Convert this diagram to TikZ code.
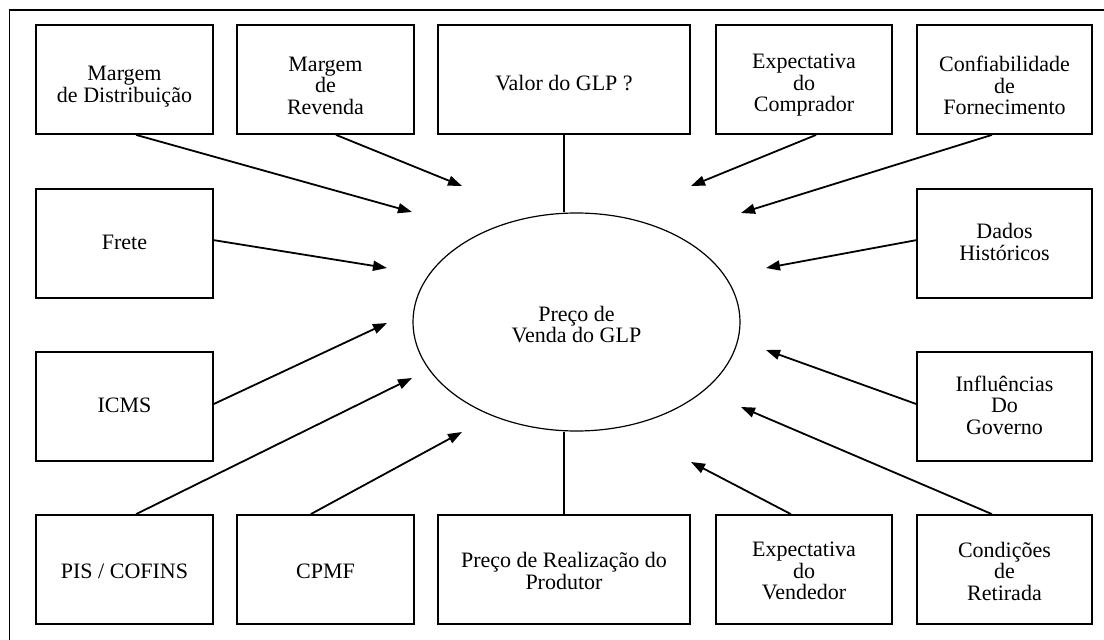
\documentclass[tikz,border=0pt]{standalone}
\usepackage{fontspec}
\setmainfont{Liberation Serif}
\usetikzlibrary{arrows.meta,calc,shapes.geometric}
\begin{document}
\begin{tikzpicture}[x=1pt,y=-1pt,
  box/.style={draw,line width=1.8pt,inner sep=0pt,minimum height=109pt},
  txt/.style={align=center,inner sep=0pt,font=\fontsize{22pt}{21.5pt}\selectfont},
  w1/.style={minimum width=177pt},
  w3/.style={minimum width=252pt},
  w4/.style={minimum width=176pt},
  w5/.style={minimum width=175pt},
  conn/.style={line width=1.8pt},
  arr/.style={line width=1.8pt,-{Triangle[length=14pt,width=10pt]}}]
\useasboundingbox (0,0) rectangle (1104,640);
\begin{scope}
\clip (0,0) rectangle (1104,640);
\draw[line width=1.6pt] (9.5,10) rectangle (1130,670);
\end{scope}
% row 1
\node[box,w1,label={[txt,yshift=-7pt]center:{Margem\\de Distribuição}}] (md) at (124.5,79.5) {};
\node[box,w1,label={[txt,yshift=-6pt]center:{Margem\\de\\Revenda}}] (mr) at (325.5,79.5) {};
\node[box,w3,label={[txt,yshift=-4pt]center:{Valor do GLP ?}}] (valor) at (564,79.5) {};
\node[box,w4,label={[txt,yshift=-6pt]center:{Expectativa\\do\\Comprador}}] (ec) at (804,79.5) {};
\node[box,w5,label={[txt,yshift=-6pt]center:{Confiabilidade\\de\\Fornecimento}}] (cf) at (1004.5,79.5) {};
% row 2
\node[box,w1,label={[txt,yshift=1.5pt]center:{Frete}}] (frete) at (124.5,243.5) {};
\node[box,w5,label={[txt,yshift=1.5pt]center:{Dados\\Históricos}}] (dados) at (1004.5,243.5) {};
% row 3
\node[box,w1,label={[txt,yshift=1.5pt]center:{ICMS}}] (icms) at (124.5,406.5) {};
\node[box,w5,label={[txt,yshift=1.5pt]center:{Influências\\Do\\Governo}}] (infl) at (1004.5,406.5) {};
% row 4
\node[box,w1,label={[txt,yshift=-1.5pt]center:{PIS / COFINS}}] (pis) at (124.5,569.5) {};
\node[box,w1,label={[txt,yshift=-1.5pt]center:{CPMF}}] (cpmf) at (325.5,569.5) {};
\node[box,w3,label={[txt,yshift=-1.5pt]center:{Preço de Realização do\\Produtor}}] (prp) at (564,569.5) {};
\node[box,w4,label={[txt,yshift=-1.5pt]center:{Expectativa\\do\\Vendedor}}] (ev) at (804,569.5) {};
\node[box,w5,label={[txt,yshift=-1.5pt]center:{Condições\\de\\Retirada}}] (cr) at (1004.5,569.5) {};
% centre
\node[draw,line width=1.2pt,ellipse,minimum width=327pt,minimum height=218pt,inner sep=0pt,
  label={[txt,yshift=-2.5pt]center:{Preço de\\Venda do GLP}}] (ell) at (576.5,322) {};
% free arrow ends
\coordinate (t1) at (412,212);
\coordinate (t2) at (462,186);
\coordinate (t3) at (691,186);
\coordinate (t4) at (741,213);
\coordinate (t5) at (387,268);
\coordinate (t6) at (766,268);
\coordinate (t7) at (387,323);
\coordinate (t8) at (766,350);
\coordinate (t9) at (412,378);
\coordinate (t10) at (462,432);
\coordinate (t11) at (691,462);
\coordinate (t12) at (741,407);
% connectors
\draw[conn] (valor.south) -- (valor.south |- ell.north);
\draw[conn] (prp.north) -- (prp.north |- ell.south);
\draw[arr] ($(md.south west)!0.565!(md.south east)$) -- (t1);
\draw[arr] ($(mr.south west)!0.559!(mr.south east)$) -- (t2);
\draw[arr] ($(ec.south west)!0.568!(ec.south east)$) -- (t3);
\draw[arr] ($(cf.south west)!0.429!(cf.south east)$) -- (t4);
\draw[arr] ($(frete.north east)!0.47!(frete.south east)$) -- (t5);
\draw[arr] ($(dados.north west)!0.47!(dados.south west)$) -- (t6);
\draw[arr] ($(icms.north east)!0.477!(icms.south east)$) -- (t7);
\draw[arr] ($(infl.north west)!0.477!(infl.south west)$) -- (t8);
\draw[arr] ($(pis.north west)!0.565!(pis.north east)$) -- (t9);
\draw[arr] ($(cpmf.north west)!0.418!(cpmf.north east)$) -- (t10);
\draw[arr] ($(ev.north west)!0.426!(ev.north east)$) -- (t11);
\draw[arr] ($(cr.north west)!0.429!(cr.north east)$) -- (t12);
\end{tikzpicture}
\end{document}
